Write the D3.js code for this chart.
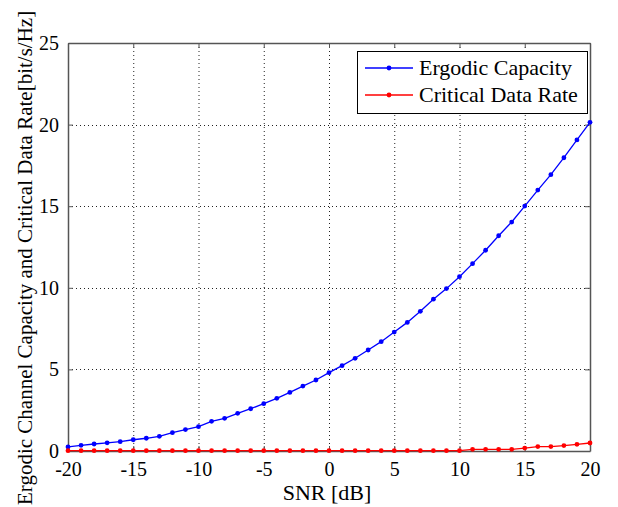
<!DOCTYPE html>
<html>
<head>
<meta charset="utf-8">
<script src="https://cdn.jsdelivr.net/npm/d3@7"></script>
<style>
  html, body { margin: 0; padding: 0; background: #fff; }
  svg { display: block; }
  svg text { font-family: "Times New Roman", Times, Tinos, "Liberation Serif", "Noto Serif", "DejaVu Serif", serif !important; fill: #000; }
</style>
</head>
<body>
<svg id="chart" width="618" height="507"></svg>
<script>
// ---- data ----
const snr = d3.range(-20, 21, 1);
const ergodicCapacity = [
  0.25, 0.35, 0.43, 0.50, 0.57, 0.69, 0.78, 0.90, 1.12, 1.31,
  1.49, 1.82, 2.00, 2.31, 2.59, 2.90, 3.23, 3.59, 3.98, 4.35,
  4.80, 5.23, 5.68, 6.19, 6.70, 7.29, 7.88, 8.56, 9.30, 9.95,
  10.68, 11.48, 12.30, 13.19, 14.03, 15.01, 15.99, 16.93, 17.97, 19.06,
  20.14
];
const criticalDataRate = [
  0.02, 0.02, 0.02, 0.02, 0.02, 0.02, 0.02, 0.02, 0.02, 0.02,
  0.02, 0.02, 0.02, 0.02, 0.02, 0.02, 0.02, 0.02, 0.02, 0.02,
  0.02, 0.02, 0.02, 0.02, 0.02, 0.02, 0.02, 0.02, 0.02, 0.02,
  0.02, 0.10, 0.10, 0.10, 0.10, 0.18, 0.27, 0.27, 0.33, 0.41,
  0.49
];
const xTicks = [-20, -15, -10, -5, 0, 5, 10, 15, 20];
const yTicks = [0, 5, 10, 15, 20, 25];
const seriesNames = ["Ergodic Capacity", "Critical Data Rate"];
const seriesColors = ["#0000ff", "#ff0000"];
const xLabel = "SNR [dB]";
const yLabel = "Ergodic Channel Capacity and Critical Data Rate[bit/s/Hz]";

// ---- layout ----
const L = 68, R = 590, T = 43, B = 451;
const FONT = '"Times New Roman", Times, Tinos, "Liberation Serif", "Noto Serif", "DejaVu Serif", serif';
const svg = d3.select("#chart");
const x = d3.scaleLinear().domain([-20, 20]).range([L, R]);
const y = d3.scaleLinear().domain([0, 25]).range([B, T]);

// grid
const grid = svg.append("g").attr("stroke", "#222").attr("stroke-width", 1)
  .attr("stroke-dasharray", "1,3");
xTicks.slice(1, -1).forEach(t => {
  grid.append("line").attr("x1", x(t) + 0.5).attr("x2", x(t) + 0.5)
    .attr("y1", T).attr("y2", B);
});
yTicks.slice(1, -1).forEach(t => {
  grid.append("line").attr("y1", Math.round(y(t)) + 0.5).attr("y2", Math.round(y(t)) + 0.5)
    .attr("x1", L).attr("x2", R);
});

// axes with inward ticks
const axCol = "#555";
const fmt = d => String(d);
const gB = svg.append("g").attr("transform", `translate(0,${B})`)
  .call(d3.axisBottom(x).tickValues(xTicks).tickFormat(fmt).tickSizeInner(-5).tickSizeOuter(0).tickPadding(11));
const gT = svg.append("g").attr("transform", `translate(0,${T})`)
  .call(d3.axisTop(x).tickValues(xTicks).tickSizeInner(-5).tickSizeOuter(0).tickFormat(""));
const gL = svg.append("g").attr("transform", `translate(${L},0)`)
  .call(d3.axisLeft(y).tickValues(yTicks).tickFormat(fmt).tickSizeInner(-5).tickSizeOuter(0).tickPadding(9));
const gR = svg.append("g").attr("transform", `translate(${R},0)`)
  .call(d3.axisRight(y).tickValues(yTicks).tickSizeInner(-5).tickSizeOuter(0).tickFormat(""));
[gB, gT, gL, gR].forEach(g => {
  g.attr("font-family", FONT);
  g.select(".domain").attr("stroke", axCol).attr("stroke-width", 1.5);
  g.selectAll(".tick line").attr("stroke", axCol).attr("stroke-width", 1);
  g.selectAll("text").attr("font-family", FONT).attr("font-size", 20).attr("fill", "#000");
});
gB.selectAll("text").attr("dy", "0.71em");

// series
const series = [ergodicCapacity, criticalDataRate];
const line = d3.line().x((d, i) => x(snr[i])).y(d => y(d));
series.forEach((vals, k) => {
  svg.append("path").datum(vals).attr("d", line)
    .attr("fill", "none").attr("stroke", seriesColors[k]).attr("stroke-width", 1.3);
  svg.append("g").selectAll("circle").data(vals).join("circle")
    .attr("cx", (d, i) => x(snr[i])).attr("cy", d => y(d)).attr("r", 2.4)
    .attr("fill", seriesColors[k]);
});

// legend
const lg = svg.append("g");
lg.append("rect").attr("x", 357.5).attr("y", 51.5).attr("width", 230).attr("height", 62)
  .attr("fill", "#fff").attr("stroke", "#000").attr("stroke-width", 1);
seriesNames.forEach((name, k) => {
  const yy = 68 + k * 27;
  lg.append("line").attr("x1", 365).attr("x2", 413).attr("y1", yy).attr("y2", yy)
    .attr("stroke", seriesColors[k]).attr("stroke-width", 1.3);
  lg.append("circle").attr("cx", 389).attr("cy", yy).attr("r", 2.4).attr("fill", seriesColors[k]);
  lg.append("text").attr("x", 419).attr("y", yy + 7).attr("font-family", FONT)
    .attr("font-size", 22).text(name);
});

// axis labels
svg.append("text").attr("x", (L + R) / 2 - 2).attr("y", 500).attr("text-anchor", "middle")
  .attr("font-family", FONT).attr("font-size", 22).text(xLabel);
svg.append("text").attr("transform", "translate(32,505) rotate(-90)")
  .attr("text-anchor", "start").attr("font-family", FONT).attr("font-size", 21).text(yLabel);
</script>
</body>
</html>
